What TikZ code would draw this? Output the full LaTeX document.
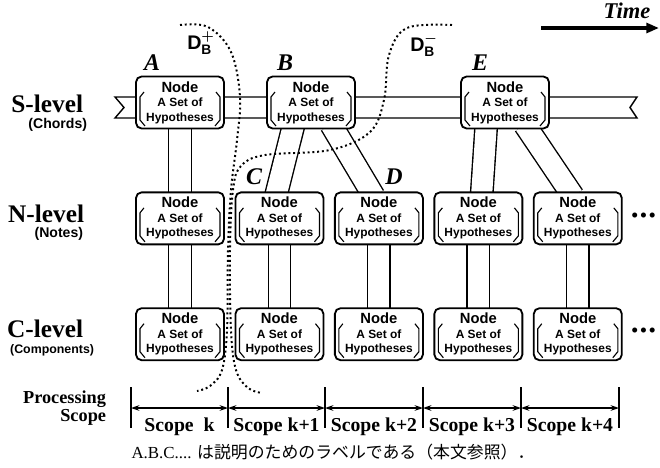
\documentclass[tikz,border=0pt]{standalone}
\usepackage{fontspec}
\usepackage{amsmath}
\usepackage{bm}
\setmainfont{Liberation Serif}
\setsansfont{Liberation Sans}
\newfontfamily\jpfont{Noto Sans CJK JP}
\usetikzlibrary{positioning, calc, arrows.meta, backgrounds}
\tikzset{
x=0.025cm, y=-0.025cm, % one unit is one pixel of the layout
node distance=1.55cm, % gap between the levels
hypbox/.style={draw, line width=1.3pt, rounded corners=4pt, fill=white,
  minimum width=2.2cm, minimum height=1.3cm, inner sep=0pt, align=center,
  font=\sffamily\bfseries\fontsize{8.5}{10.3}\selectfont,
  path picture={
    \draw[line width=0.8pt, sharp corners]
      ($(path picture bounding box.west)+(8,-10.5)$) -- ++(-4,5) -- ++(0,23) -- ++(5,6)
      ($(path picture bounding box.east)+(-8,-10.5)$) -- ++(4,5) -- ++(0,23) -- ++(-5,6);
  }},
link/.style={line width=1pt, double, double distance=0.525cm,
  shorten <=-4pt, shorten >=-4pt}, % two parallel lines between nodes
band/.style={line width=1pt},
levelname/.style={anchor=east, font=\bfseries\fontsize{18}{18}\selectfont},
levelsub/.style={anchor=east, font=\sffamily\bfseries\fontsize{10}{12}\selectfont},
letterlab/.style={font=\bfseries\itshape\fontsize{17}{17}\selectfont},
boundary/.style={line width=1.4pt, dotted},
scopetick/.style={line width=0.8pt},
scopearrow/.style={line width=1pt, {Stealth[length=6pt,width=4pt]}-{Stealth[length=6pt,width=4pt]}},
scopelab/.style={font=\bfseries\fontsize{14}{14}\selectfont},
more/.style={inner sep=0pt, anchor=west, font=\fontsize{15}{15}\selectfont},
}
\newcommand{\hypnode}{{\fontsize{10.5}{10.3}\selectfont Node}\\A Set of\\Hypotheses}
\newcommand{\moredots}{\textbullet\hspace{1pt}\textbullet\hspace{1pt}\textbullet}

\begin{document}
\begin{tikzpicture}
\useasboundingbox (0,0) rectangle (660,468);

% names of the levels
\node[levelname] (slev) at (88,104) {S-level};
\node[levelsub] (ssub) at (92,125) {(Chords)};
\node[levelname] (nlev) at (89,214) {N-level};
\node[levelsub] (nsub) at (88,234) {(Notes)};
\node[levelname] (clev) at (88,329) {C-level};
\node[levelsub, font=\sffamily\bfseries\fontsize{8.8}{10}\selectfont] (csub) at (99,350) {(Components)};
\node[anchor=east, font=\bfseries\fontsize{13}{13}\selectfont, align=right] (proc) at (111,408) {Processing\\Scope};

% hypothesis nodes
\node[hypbox] (A) at (180,102.5) {\hypnode};
\node[hypbox] (B) at (311,102.5) {\hypnode};
\node[hypbox] (E) at (505,102.5) {\hypnode};
\node[hypbox, below=of A] (n1) {\hypnode};
\node[hypbox, right=0.24cm of n1] (n2) {\hypnode};
\node[hypbox, right=0.24cm of n2] (n3) {\hypnode};
\node[hypbox, right=0.24cm of n3] (n4) {\hypnode};
\node[hypbox, right=0.24cm of n4] (n5) {\hypnode};
\node[hypbox, below=of n1] (c1) {\hypnode};
\node[hypbox, below=of n2] (c2) {\hypnode};
\node[hypbox, below=of n3] (c3) {\hypnode};
\node[hypbox, below=of n4] (c4) {\hypnode};
\node[hypbox, below=of n5] (c5) {\hypnode};
\node[more] (nmore) at ($(n5.east)+(8,-1)$) {\moredots};
\node[more] (cmore) at ($(c5.east)+(8,-1)$) {\moredots};

% letters
\node[letterlab] (labA) at (152,63) {A};
\node[letterlab] (labB) at (285,63) {B};
\node[letterlab] (labE) at (480,63) {E};
\node[letterlab] (labC) at (254,177) {C};
\node[letterlab] (labD) at (394,177) {D};

\begin{pgfonlayer}{background}
  \draw[band] (115,97) -- (637,97) -- (630,107.5) -- (637,118) -- (115,118) -- (124,107.5) -- cycle;
  \draw[link] (A) -- (n1);
  \draw[link] ($(B.south)+(-18.5,0)$) -- ($(n2.north)+(-2.5,0)$);
  \draw[link] ($(B.south)+(23,0)$) -- ($(n3.north)+(-8,0)$);
  \draw[link] ($(E.south)+(-19,0)$) -- ($(n4.north)+(3.5,0)$);
  \draw[link] ($(E.south)+(23,0)$) -- ($(n5.north)+(-8,0)$);
  \foreach \i in {1,...,5}
    \draw[link] (n\i) -- (c\i);
\end{pgfonlayer}

% the two dependency boundaries of B
\draw[boundary] plot[smooth, tension=0.6] coordinates {(180,25) (208,27) (231,52) (240,97) (237,140) (231,190) (228,250) (227,330) (222,370) (210,386) (197,391)};
\draw[boundary] plot[smooth, tension=0.6] coordinates {(452,25) (407,28) (389,55) (384,100) (370,132) (330,150) (265,155) (241,166) (233,190) (230,250) (231,330) (236,370) (248,388) (262,393)};
\node[font=\sffamily\bfseries\fontsize{14}{14}\selectfont] (dplus) at (201,43) {D$^{\bm{+}}_{\textsf{\bfseries B}}$};
\node[font=\sffamily\bfseries\fontsize{14}{14}\selectfont] (dminus) at (424,45) {D$^{\bm{-}}_{\textsf{\bfseries B}}$};

% time axis
\node[font=\bfseries\itshape\fontsize{16}{16}\selectfont] (time) at (627,11) {Time};
\coordinate (tstart) at (541,28);
\coordinate (tend) at (659,28);
\draw[line width=2.5pt, -{Triangle[length=9pt,width=7pt]}] (tstart) -- (tend);

% processing scopes
\foreach \x [count=\i from 0] in {131,228,325,423,521,619} {
  \coordinate (t\i) at (\x,408);
  \draw[scopetick] (\x,387) -- (\x,428);
}
\foreach \i/\j/\lab in {0/1/{Scope\enspace k}, 1/2/{Scope k+1}, 2/3/{Scope k+2}, 3/4/{Scope k+3}, 4/5/{Scope k+4}} {
  \draw[scopearrow] (t\i) -- (t\j);
  \node[scopelab] (s\i) at ($(t\i)!0.5!(t\j)+(0,19)$) {\lab};
}

\node[font=\fontsize{12}{12}\selectfont] (note) at (333,452) {A.B.C.... {\jpfont は説明のためのラベルである（本文参照）．}};
\end{tikzpicture}
\end{document}
